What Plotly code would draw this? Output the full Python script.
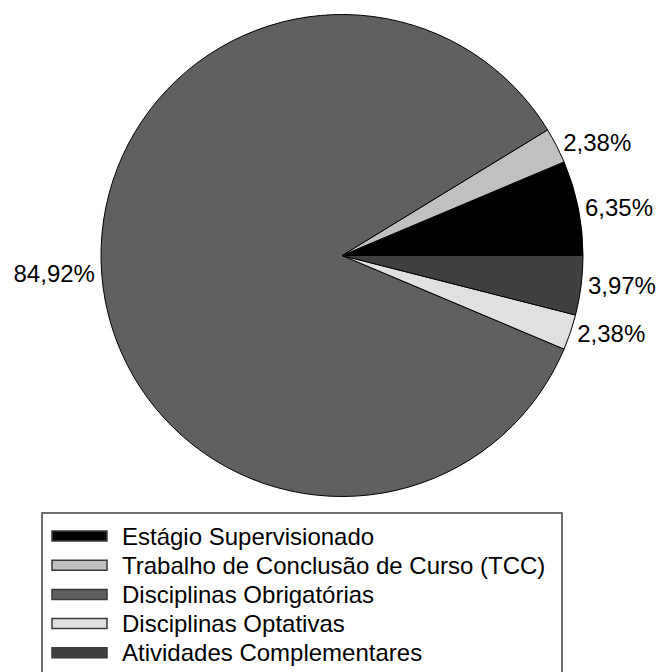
import plotly.graph_objects as go

# percent of total course load
labels = [
    "Estágio Supervisionado",
    "Trabalho de Conclusão de Curso (TCC)",
    "Disciplinas Obrigatórias",
    "Disciplinas Optativas",
    "Atividades Complementares",
]
values = [6.35, 2.38, 84.92, 2.38, 3.97]
colors = ["#000000", "#c0c0c0", "#606060", "#e0e0e0", "#404040"]

# page body has an 8px margin, so the figure is drawn 8px smaller and offset
OFF = 8
W, H = 664 - OFF, 672 - OFF
FONT = "Liberation Sans, Arial, sans-serif"

# pie geometry in page pixels
cx, cy, r = 342 - OFF, 255.5 - OFF, 241

# plotly ends the first counterclockwise slice at the rotation angle,
# so shift by the first slice to start it at 3 o'clock
first_deg = values[0] / sum(values) * 360

fig = go.Figure(go.Pie(
    labels=labels,
    values=values,
    sort=False,
    direction="counterclockwise",
    rotation=90 - first_deg,
    marker=dict(colors=colors, line=dict(color="#000000", width=1)),
    textposition="outside",
    texttemplate="%{percent:.2%}",
    textfont=dict(family=FONT, size=24, color="#000000"),
    domain=dict(x=[(cx - r) / W, (cx + r) / W],
                y=[1 - (cy + r) / H, 1 - (cy - r) / H]),
    showlegend=False,
    hoverinfo="label+percent",
))

# hand-drawn legend (wide bordered swatches like the original)
px = lambda x: (x - OFF) / W
py = lambda y: 1 - (y - OFF) / H
shapes = [dict(type="rect", xref="paper", yref="paper",
               x0=px(42), x1=px(562), y0=py(700), y1=py(513),
               line=dict(color="#404040", width=1.5), fillcolor="rgba(0,0,0,0)")]
annotations = []
row0, step = 536, 29.2
for i, (lab, col) in enumerate(zip(labels, colors)):
    yc = row0 + i * step
    shapes.append(dict(type="rect", xref="paper", yref="paper",
                       x0=px(52), x1=px(107), y0=py(yc + 5), y1=py(yc - 5),
                       line=dict(color="#3a3a3a", width=1.5), fillcolor=col))
    annotations.append(dict(text=lab, xref="paper", yref="paper",
                            x=px(120), y=py(yc), xanchor="left", yanchor="middle",
                            showarrow=False,
                            font=dict(family=FONT, size=24, color="#000000")))

fig.update_layout(
    width=W, height=H,
    margin=dict(l=0, r=0, t=0, b=0),
    paper_bgcolor="white",
    plot_bgcolor="white",
    separators=",.",
    shapes=shapes,
    annotations=annotations,
)

fig.write_html("out.html")
